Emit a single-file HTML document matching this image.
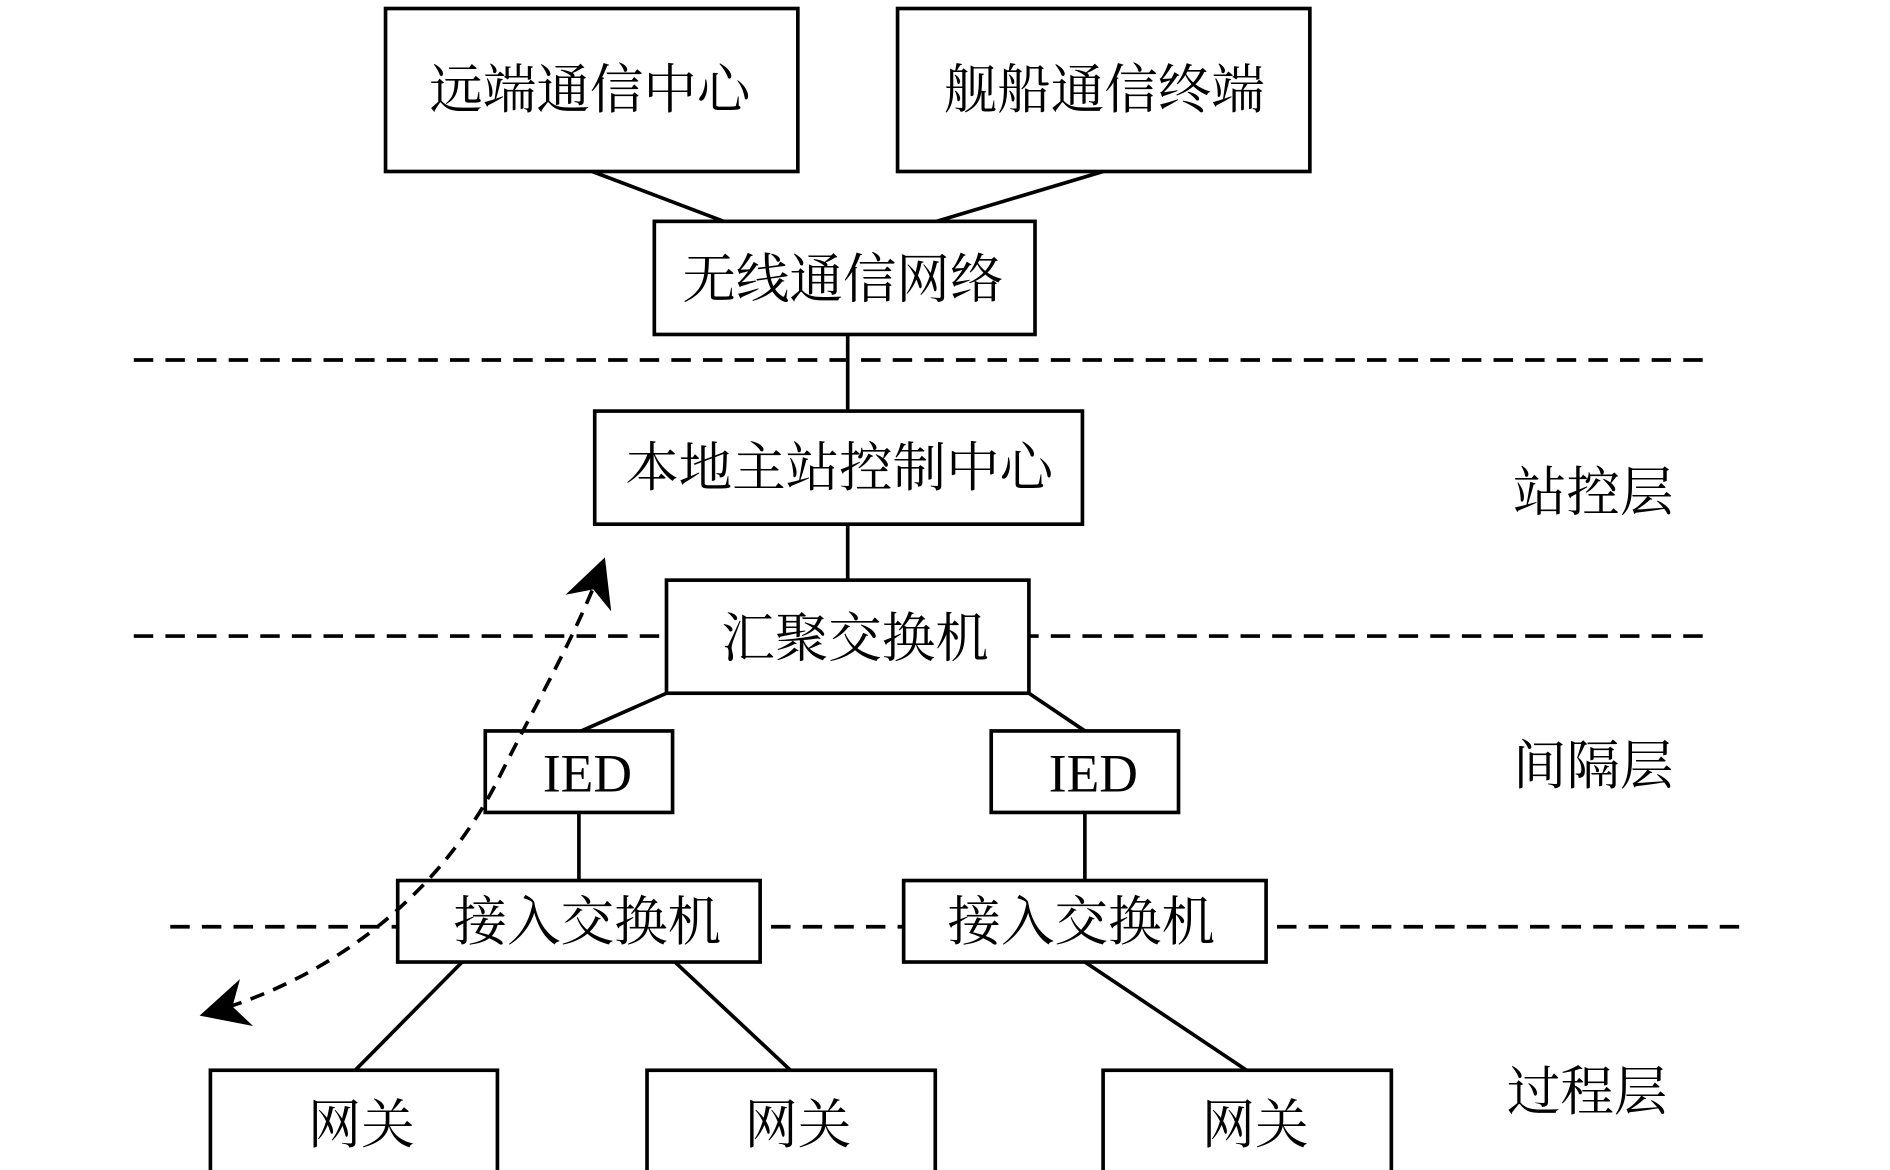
<!DOCTYPE html>
<html><head><meta charset="utf-8"><style>
html,body{margin:0;padding:0;background:#fff;}
svg{display:block;}
text{font-family:"Liberation Serif","Noto Serif CJK SC",serif;fill:#000;text-anchor:middle;dominant-baseline:central;}
</style></head><body>
<svg width="1890" height="1170" viewBox="0 0 1554 962" preserveAspectRatio="none" xmlns="http://www.w3.org/2000/svg">
<defs>
<marker id="ah" viewBox="0 0 10 10" refX="9" refY="5" markerWidth="9" markerHeight="9" orient="auto-start-reverse" markerUnits="userSpaceOnUse">
<path d="M0,0 L10,5 L0,10 L3,5 Z" fill="#000"/>
</marker>
<marker id="ah2" viewBox="0 0 10 10" refX="9" refY="5" markerWidth="40" markerHeight="40" orient="auto-start-reverse" markerUnits="userSpaceOnUse">
<path d="M0,0 L10,5 L0,10 L3,5 Z" fill="#000"/>
</marker>
</defs>
<g stroke="#000" stroke-width="3" fill="#fff">
<!-- dashed layer lines -->
<line x1="110" y1="296" x2="1405" y2="296" stroke-dasharray="16,10"/>
<line x1="110" y1="523" x2="1405" y2="523" stroke-dasharray="16,10"/>
<line x1="140" y1="762" x2="1435" y2="762" stroke-dasharray="16,10"/>
<!-- connectors -->
<line x1="487" y1="141" x2="595" y2="182"/>
<line x1="907" y1="141" x2="770" y2="182"/>
<line x1="697" y1="275" x2="697" y2="338"/>
<line x1="697" y1="431" x2="697" y2="477"/>
<line x1="548" y1="570" x2="478" y2="601"/>
<line x1="846" y1="570" x2="892" y2="601"/>
<line x1="476" y1="668" x2="476" y2="724"/>
<line x1="892" y1="668" x2="892" y2="724"/>
<line x1="380" y1="791" x2="292" y2="880"/>
<line x1="555" y1="791" x2="650" y2="880"/>
<line x1="892" y1="791" x2="1025" y2="880"/>
<!-- boxes -->
<rect x="317" y="7" width="339" height="134"/>
<rect x="738" y="7" width="339" height="134"/>
<rect x="538" y="182" width="313" height="93"/>
<rect x="489" y="338" width="401" height="93"/>
<rect x="548" y="477" width="298" height="93"/>
<rect x="399" y="601" width="154" height="67"/>
<rect x="815" y="601" width="154" height="67"/>
<rect x="327" y="724" width="298" height="67"/>
<rect x="743" y="724" width="298" height="67"/>
<rect x="173" y="880" width="236" height="85"/>
<rect x="532" y="880" width="237" height="85"/>
<rect x="907" y="880" width="237" height="85"/>
<!-- curved dashed arrow -->
<path d="M168,834 C290,800 370,720 410,640 C445,570 475,520 496,462" fill="none" stroke-dasharray="12,8" marker-start="url(#ah2)" marker-end="url(#ah2)"/>
</g>
<g font-size="44">
<text x="485" y="74">远端通信中心</text>
<text x="908" y="74">舰船通信终端</text>
<text x="693" y="230">无线通信网络</text>
<text x="690" y="385">本地主站控制中心</text>
<text x="703" y="525">汇聚交换机</text>
<text x="483" y="636">IED</text>
<text x="899" y="636">IED</text>
<text x="483" y="758">接入交换机</text>
<text x="889" y="758">接入交换机</text>
<text x="297" y="925">网关</text>
<text x="656" y="925">网关</text>
<text x="1032" y="925">网关</text>
<text x="1310" y="405">站控层</text>
<text x="1310" y="630">间隔层</text>
<text x="1305" y="898">过程层</text>
</g>
</svg>
</body></html>
